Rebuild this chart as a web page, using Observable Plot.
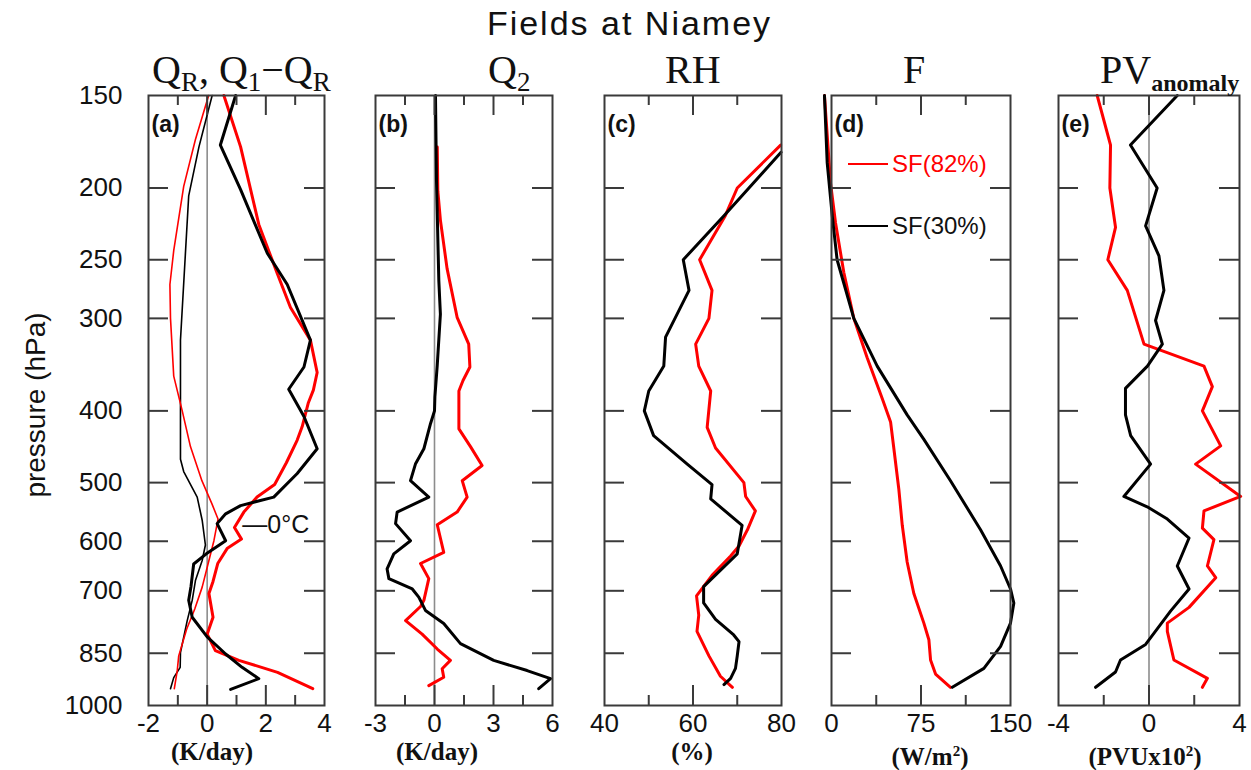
<!DOCTYPE html>
<html>
<head>
<meta charset="utf-8">
<script src="https://cdn.jsdelivr.net/npm/d3@7"></script>
<script src="https://cdn.jsdelivr.net/npm/@observablehq/plot@0.6"></script>
<style>
  html, body { margin: 0; padding: 0; background: #fff; }
  #fig { position: relative; width: 1251px; height: 770px; overflow: hidden; background: #fff; }
  .abs { position: absolute; white-space: nowrap; }
  .title { font-family: "Liberation Sans", sans-serif; font-size: 34px; letter-spacing: 2px; line-height: 34px; color: #111; }
  .ptitle { font-family: "Liberation Serif", serif; font-size: 40px; line-height: 40px; color: #111; }
  .ptitle .sb { font-size: 27px; vertical-align: -0.3em; }
  .ptitle .sbb { font-size: 24px; font-weight: bold; vertical-align: -0.35em; }
  .unit { font-family: "Liberation Serif", serif; font-weight: bold; font-size: 25px; line-height: 25px; color: #111; transform: translateX(-50%); }
  .unit sup { font-size: 15px; vertical-align: 0.6em; }
  .ylab { font-family: "Liberation Sans", sans-serif; font-size: 28px; line-height: 28px; color: #111; transform: translate(-50%, -50%) rotate(-90deg); }
  .leg { font-family: "Liberation Sans", sans-serif; font-size: 24px; line-height: 24px; display: flex; align-items: center; }
  .leg .ln { display: inline-block; width: 40px; height: 2px; margin-right: 4px; }
</style>
</head>
<body>
<div id="fig"></div>
<script>
// ---------------- data (pressure hPa, value) ----------------
const pressureLabels = [150, 200, 250, 300, 400, 500, 600, 700, 850, 1000];
const pressureInnerTicks = [200, 250, 300, 400, 500, 600, 700, 850];

// (a) radiative heating Q_R (thin) and Q1 - Q_R (thick), K/day
const qR_SF82 = [[150,0.05],[172,-0.4],[199,-0.8],[243,-1.14],[270,-1.27],[300,-1.25],[359,-1.14],[400,-0.85],[447,-0.57],[497,-0.18],[535,0.17],[560,0.37],[599,0.23],[637,0.06],[692,-0.17],[740,-0.42],[789,-0.7],[857,-0.97],[897,-1.02],[949,-1.12]];
const qR_SF30 = [[150,0.17],[176,-0.28],[205,-0.63],[321,-0.91],[465,-0.91],[483,-0.8],[523,-0.34],[562,-0.17],[607,-0.06],[637,-0.17],[678,-0.4],[721,-0.51],[768,-0.68],[848,-0.91],[888,-0.92],[917,-1.14],[949,-1.25]];
const q1mqR_SF82 = [[150,0.57],[176,1.14],[224,1.76],[261,2.39],[290,2.84],[321,3.52],[355,3.75],[375,3.62],[390,3.45],[420,3.24],[438,3.07],[470,2.7],[503,2.3],[523,1.7],[548,1.25],[575,0.93],[596,1.17],[613,0.69],[643,0.36],[680,0.2],[706,0.06],[760,0.2],[801,0.0],[843,0.28],[869,1.08],[902,2.4],[949,3.6]];
const q1mqR_SF30 = [[150,0.97],[175,0.45],[201,1.14],[245,2.05],[270,2.73],[321,3.52],[349,3.3],[374,2.78],[407,3.3],[450,3.75],[486,3.07],[523,2.27],[537,1.14],[551,0.63],[568,0.34],[599,0.63],[624,-0.03],[644,-0.46],[690,-0.55],[721,-0.63],[760,-0.51],[808,0.0],[852,0.63],[888,1.19],[920,1.76],[951,0.8]];
const freezingLevel = [{value: 1.2, p: 570, label: "—0°C"}];

// (b) Q2, K/day
const q2_SF82 = [[176,0.14],[202,0.17],[221,0.3],[257,0.64],[299,1.15],[325,1.74],[349,1.8],[364,1.45],[376,1.24],[423,1.24],[447,1.83],[474,2.42],[497,1.41],[523,1.66],[548,1.15],[570,0.14],[621,0.47],[643,-0.71],[674,-0.29],[721,-0.54],[735,-0.71],[768,-1.47],[801,-0.63],[839,0.14],[869,0.81],[892,0.39],[916,0.47],[940,-0.29]];
const q2_SF30 = [[150,0.05],[195,0.1],[267,0.22],[296,0.3],[347,0.14],[383,0.02],[400,0.0],[416,-0.2],[450,-0.54],[472,-0.97],[497,-1.22],[523,-0.29],[548,-1.9],[568,-1.98],[599,-1.22],[624,-2.07],[654,-2.41],[674,-2.32],[696,-1.13],[714,-0.8],[744,-0.46],[775,0.47],[825,1.32],[869,3.01],[897,4.71],[920,5.9],[949,5.3]];

// (c) relative humidity, %
const rh_SF82 = [[175,79.8],[200,70.0],[218,67.3],[250,61.5],[275,64.3],[300,63.6],[325,60.6],[348,61.3],[376,64.0],[421,63.2],[449,65.1],[500,71.5],[522,71.9],[546,74.1],[579,72.3],[609,70.4],[628,68.5],[667,64.3],[711,60.8],[755,61.3],[794,60.9],[857,63.6],[913,66.2],[945,68.9]];
const rh_SF30 = [[179,79.9],[218,67.0],[250,57.8],[275,59.1],[318,53.8],[348,53.4],[376,50.0],[400,49.0],[432,51.1],[472,58.7],[503,64.3],[526,64.0],[571,71.1],[624,70.0],[691,62.4],[727,62.4],[765,65.1],[803,69.2],[820,70.4],[857,70.0],[891,69.6],[919,68.5],[937,67.0]];

// (d) F, W/m2
const f_SF82 = [[150,-5.9],[197,-0.8],[223,3.4],[260,10.3],[300,18.7],[339,29.9],[385,42.5],[414,49.5],[449,52.2],[510,56.4],[571,59.3],[640,63.4],[706,69.0],[774,77.4],[815,81.6],[868,83.0],[907,87.2],[945,99.7]];
const f_SF30 = [[150,-5.9],[185,-3.6],[218,0.6],[250,4.7],[300,18.7],[348,38.3],[405,63.4],[437,77.4],[497,99.7],[579,124.9],[648,141.7],[696,150],[727,152.8],[774,150],[832,141.7],[891,127.7],[945,101.2]];

// (e) PV anomaly, PVU x 10^2
const pv_SF82 = [[150,-2.29],[175,-1.7],[200,-1.73],[226,-1.48],[250,-1.82],[275,-0.96],[325,-0.22],[348,2.43],[371,2.8],[400,2.36],[446,3.17],[472,2.06],[522,4.05],[546,2.43],[576,2.36],[597,2.87],[648,2.58],[672,2.95],[737,1.77],[774,0.81],[794,0.81],[868,1.1],[919,2.58],[945,2.36]];
const pv_SF30 = [[150,1.25],[175,-0.82],[200,0.36],[225,-0.15],[247,0.44],[275,0.66],[302,0.29],[325,0.59],[348,-0.07],[373,-1.04],[405,-1.04],[432,-0.81],[472,0.07],[522,-1.11],[539,-0.08],[560,0.81],[594,1.77],[648,1.25],[696,1.77],[745,0.96],[827,-0.15],[868,-1.26],[901,-1.48],[945,-2.36]];

// axis tick values
const xLabelsA = [-2, 0, 2, 4],   xMajorA = [0, 2],    xMinorA = [-1, 1, 3];
const xLabelsB = [-3, 0, 3, 6],   xMajorB = [0, 3],    xMinorB = [-1.5, 1.5, 4.5];
const xLabelsC = [40, 60, 80],    xMajorC = [60],      xMinorC = [50, 70];
const xLabelsD = [0, 75, 150],    xMajorD = [75],      xMinorD = [37.5, 112.5];
const xLabelsE = [-4, 0, 4],      xMajorE = [0],       xMinorE = [-2, 2];

// ---------------- layout ----------------
const W = 1251, H = 770, TOP = 95, BOTTOM = 705;
const RED = "#f00", BLACK = "#000", THICK = 3, THIN = 1.6;
const fig = document.getElementById("fig");
const intFormat = d => (d < 0 ? "-" : "") + String(Math.abs(d));

const panels = [
  {left: 148, right: 324, domain: [-2, 4], labels: xLabelsA, major: xMajorA, minor: xMinorA, zero: true, yAxis: true, letter: "(a)",
   series: [[qR_SF30, BLACK, THIN], [qR_SF82, RED, THIN], [q1mqR_SF82, RED, THICK], [q1mqR_SF30, BLACK, THICK]], note: freezingLevel},
  {left: 375, right: 552, domain: [-3, 6], labels: xLabelsB, major: xMajorB, minor: xMinorB, zero: true, letter: "(b)",
   series: [[q2_SF82, RED, THICK], [q2_SF30, BLACK, THICK]]},
  {left: 604, right: 781, domain: [40, 80], labels: xLabelsC, major: xMajorC, minor: xMinorC, letter: "(c)",
   series: [[rh_SF82, RED, THICK], [rh_SF30, BLACK, THICK]]},
  {left: 831, right: 1010, domain: [0, 150], labels: xLabelsD, major: xMajorD, minor: xMinorD, letter: "(d)",
   series: [[f_SF82, RED, THICK], [f_SF30, BLACK, THICK]]},
  {left: 1058, right: 1239, domain: [-4, 4], labels: xLabelsE, major: xMajorE, minor: xMinorE, zero: true, letter: "(e)",
   series: [[pv_SF82, RED, THICK], [pv_SF30, BLACK, THICK]]}
];

const FRAME = "#3a3a3a";
for (const cfg of panels) {
  const fw = cfg.right - cfg.left, fh = BOTTOM - TOP;
  const marks = [];
  if (cfg.zero) marks.push(Plot.ruleX([0], {stroke: "#8c8c8c", strokeWidth: 1.6}));
  for (const [data, color, width] of cfg.series) {
    marks.push(Plot.line(data, {x: d => d[1], y: d => d[0], stroke: color, strokeWidth: width, strokeLinejoin: "round"}));
  }
  marks.push(Plot.tickY(pressureInnerTicks, {y: d => d, stroke: FRAME, strokeWidth: 2, insetRight: fw - 20}));
  marks.push(Plot.tickY(pressureInnerTicks, {y: d => d, stroke: FRAME, strokeWidth: 2, insetLeft: fw - 20}));
  marks.push(Plot.tickX(cfg.major, {x: d => d, stroke: FRAME, strokeWidth: 2, insetTop: fh - 20}));
  marks.push(Plot.tickX(cfg.major, {x: d => d, stroke: FRAME, strokeWidth: 2, insetBottom: fh - 20}));
  marks.push(Plot.tickX(cfg.minor, {x: d => d, stroke: FRAME, strokeWidth: 2, insetTop: fh - 10}));
  marks.push(Plot.tickX(cfg.minor, {x: d => d, stroke: FRAME, strokeWidth: 2, insetBottom: fh - 10}));
  marks.push(Plot.frame({stroke: FRAME, strokeWidth: 2}));
  marks.push(Plot.text([cfg.letter], {text: d => d, frameAnchor: "top-left", textAnchor: "start", dx: 3, dy: 20, fontSize: 23, fontWeight: "bold", fill: "#111"}));
  if (cfg.note) {
    marks.push(Plot.text(cfg.note, {x: "value", y: "p", text: "label", textAnchor: "start", fontSize: 25, fill: "#111"}));
  }
  const svg = Plot.plot({
    width: W, height: H,
    marginLeft: cfg.left, marginRight: W - cfg.right, marginTop: TOP, marginBottom: H - BOTTOM,
    x: {domain: cfg.domain, ticks: cfg.labels, tickSize: 0, tickPadding: 8, label: null, tickFormat: intFormat},
    y: cfg.yAxis
      ? {type: "log", domain: [1000, 150], ticks: pressureLabels, tickSize: 0, tickPadding: 26, label: null, tickFormat: d => String(d)}
      : {type: "log", domain: [1000, 150], axis: null},
    style: {background: "transparent", overflow: "visible", fontFamily: "Liberation Sans, sans-serif", fontSize: "26px", color: "#111"},
    marks
  });
  svg.style.position = "absolute";
  svg.style.left = "0px";
  svg.style.top = "0px";
  fig.appendChild(svg);
}

// ---------------- text ----------------
function addDiv(cls, html, css) {
  const d = document.createElement("div");
  d.className = "abs " + cls;
  d.innerHTML = html;
  Object.assign(d.style, css);
  fig.appendChild(d);
  return d;
}
addDiv("title", "Fields at Niamey", {left: "0px", width: "1259px", textAlign: "center", top: "6px"});
addDiv("ptitle", 'Q<span class="sb">R</span>, Q<span class="sb">1</span>−Q<span class="sb">R</span>', {left: "152px", top: "50px"});
addDiv("ptitle", 'Q<span class="sb">2</span>', {left: "488px", top: "50px"});
addDiv("ptitle", 'RH', {left: "665px", top: "50px"});
addDiv("ptitle", 'F', {left: "903px", top: "50px"});
addDiv("ptitle", 'PV<span class="sbb">anomaly</span>', {left: "1100px", top: "50px"});

addDiv("unit", "(K/day)", {left: "212px", top: "739px"});
addDiv("unit", "(K/day)", {left: "437px", top: "739px"});
addDiv("unit", "(%)", {left: "692px", top: "739px"});
addDiv("unit", "(W/m<sup>2</sup>)", {left: "930px", top: "739px"});
addDiv("unit", "(PVUx10<sup>2</sup>)", {left: "1145px", top: "739px"});

addDiv("ylab", "pressure (hPa)", {left: "36px", top: "405px"});

addDiv("leg", '<span class="ln" style="background:#f00"></span><span style="color:#f00">SF(82%)</span>', {left: "848px", top: "152px"});
addDiv("leg", '<span class="ln" style="background:#000"></span><span style="color:#111">SF(30%)</span>', {left: "848px", top: "214px"});
</script>
</body>
</html>
